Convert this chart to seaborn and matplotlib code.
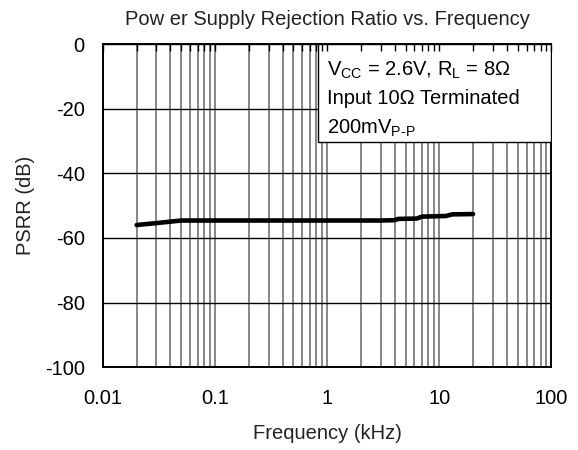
import numpy as np
import pandas as pd
import matplotlib
matplotlib.use("Agg")
import matplotlib.pyplot as plt
import seaborn as sns
from matplotlib.patches import Rectangle
from matplotlib.ticker import LogLocator, FixedLocator, NullFormatter

# ---- data ----
freq_khz = [0.02, 0.03, 0.05, 0.1, 0.2, 0.5, 1, 2, 3, 4.0, 4.3, 6.3, 7.0, 11.5, 13, 20]
psrr_db = [-56.0, -55.4, -54.6, -54.6, -54.6, -54.6, -54.6, -54.6, -54.6, -54.5, -54.1, -54.0,
           -53.4, -53.2, -52.7, -52.6]
x_ticks = [0.01, 0.1, 1, 10, 100]
x_ticklabels = ["0.01", "0.1", "1", "10", "100"]
y_ticks = [0, -20, -40, -60, -80, -100]
y_ticklabels = ["0", "-20", "-40", "-60", "-80", "-100"]
title = "Pow er Supply Rejection Ratio vs. Frequency"
xlabel = "Frequency (kHz)"
ylabel = "PSRR (dB)"
note_lines = [r"V$_{\mathrm{CC}}$ = 2.6V, R$_{\mathrm{L}}$ = 8Ω",
              "Input 10Ω Terminated",
              r"200mV$_{\mathrm{P\text{-}P}}$"]

df = pd.DataFrame({"freq": freq_khz, "psrr": psrr_db})

sns.set_theme(style="white")
plt.rcParams['font.family'] = ['Liberation Sans', 'DejaVu Sans']
plt.rcParams['mathtext.fontset'] = 'custom'
plt.rcParams['mathtext.rm'] = 'Liberation Sans'
plt.rcParams['mathtext.it'] = 'Liberation Sans'
plt.rcParams['mathtext.bf'] = 'Liberation Sans'

fig = plt.figure(figsize=(5.78, 4.5), dpi=100)
ax = fig.add_axes([0.178, 0.184, 0.776, 0.718])

sns.lineplot(data=df, x="freq", y="psrr", ax=ax, color="black", linewidth=3.3, zorder=4)

ax.set_xscale("log")
ax.set_xlim(0.01, 100)
ax.set_ylim(-100, 0)

ax.xaxis.set_major_locator(FixedLocator(x_ticks))
ax.set_xticklabels(x_ticklabels)
ax.xaxis.set_minor_locator(LogLocator(base=10, subs=np.arange(2, 10)))
ax.xaxis.set_minor_formatter(NullFormatter())
ax.set_yticks(y_ticks)
ax.set_yticklabels(y_ticklabels)

ax.grid(True, axis="x", which="both", color="#666666", linewidth=1.1)
ax.grid(True, axis="y", which="major", color="black", linewidth=1.0)
ax.tick_params(axis="both", which="both", length=0, labelsize=14.5, colors="black")
ax.tick_params(axis="x", pad=16)
ax.tick_params(axis="y", pad=13)

for s in ax.spines.values():
    s.set_color("black")
    s.set_linewidth(1.4)

ax.set_title(title, fontsize=14.5, color="#222222", pad=14)
ax.set_xlabel(xlabel, fontsize=14.5, color="#222222", labelpad=11)
ax.set_ylabel(ylabel, fontsize=14.5, color="#222222", labelpad=7)

# annotation box covering the grid in the upper right
rect = Rectangle((0.479, 0.697), 0.521, 0.303, transform=ax.transAxes,
                 facecolor="white", edgecolor="black", linewidth=1.0, zorder=3)
ax.add_patch(rect)
for i, line in enumerate(note_lines):
    ax.text(0.5, 0.953 - i * 0.091, line, transform=ax.transAxes, fontsize=14.5,
            ha="left", va="top", color="black", zorder=5)

# inward ticks on the top edge, drawn above the box
ax2 = ax.twiny()
ax2.set_zorder(ax.get_zorder() + 1)
ax2.patch.set_visible(False)
ax2.set_xscale("log")
ax2.set_xlim(0.01, 100)
ax2.xaxis.set_major_locator(FixedLocator(x_ticks))
ax2.xaxis.set_minor_locator(LogLocator(base=10, subs=np.arange(2, 10)))
ax2.xaxis.set_major_formatter(NullFormatter())
ax2.xaxis.set_minor_formatter(NullFormatter())
ax2.tick_params(axis="x", which="both", direction="in", length=5, width=1.0,
                color="black", top=True, bottom=False, labeltop=False)
for s in ax2.spines.values():
    s.set_visible(False)
ax2.grid(False)

fig.savefig("out.png", dpi=100)
